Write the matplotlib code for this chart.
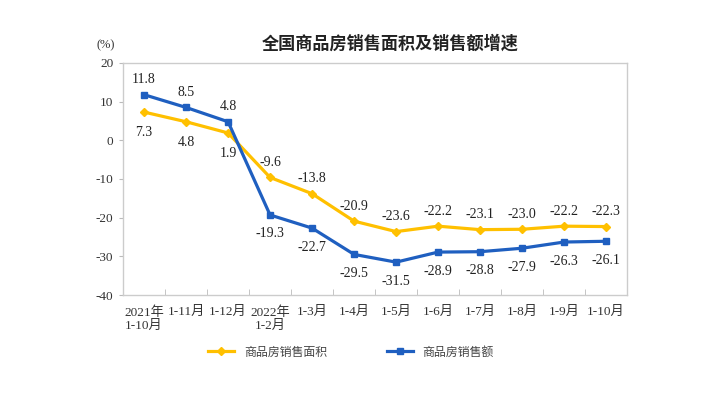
import matplotlib
matplotlib.use("Agg")
import matplotlib.pyplot as plt

plt.rcParams['font.family'] = ['Liberation Serif', 'Noto Sans CJK SC']

categories = ["2021年\n1-10月", "1-11月", "1-12月", "2022年\n1-2月", "1-3月", "1-4月",
              "1-5月", "1-6月", "1-7月", "1-8月", "1-9月", "1-10月"]
area = [7.3, 4.8, 1.9, -9.6, -13.8, -20.9, -23.6, -22.2, -23.1, -23.0, -22.2, -22.3]
sales = [11.8, 8.5, 4.8, -19.3, -22.7, -29.5, -31.5, -28.9, -28.8, -27.9, -26.3, -26.1]
yticks = [20, 10, 0, -10, -20, -30, -40]

YELLOW = "#FFC000"
BLUE = "#1F5FC0"

fig = plt.figure(figsize=(7.12, 3.96), dpi=100)
ax = fig.add_axes([0.1728, 0.255, 0.708, 0.586])

x = list(range(len(categories)))
ax.plot(x, area, color=YELLOW, lw=2.3, marker="D", ms=4, label="商品房销售面积")
ax.plot(x, sales, color=BLUE, lw=2.3, marker="s", ms=4, label="商品房销售额")

for i in x:
    if i < 3:
        ya, va_a = -10, "top"
        ys, va_s = 6, "bottom"
    else:
        ya, va_a = 6, "bottom"
        ys, va_s = -9, "top"
    ax.annotate(f"{area[i]:.1f}", (i, area[i]), xytext=(0, ya), textcoords="offset points",
                ha="center", va=va_a, fontsize=10, color="#222222")
    ax.annotate(f"{sales[i]:.1f}", (i, sales[i]), xytext=(0, ys), textcoords="offset points",
                ha="center", va=va_s, fontsize=10, color="#222222")

ax.set_xlim(-0.5, len(categories) - 0.5)
ax.set_ylim(-40, 20)
ax.set_yticks(yticks)
ax.set_yticklabels([str(v) for v in yticks], fontsize=9.5, color="#333333")

ax.set_xticks(x)
ax.set_xticklabels(categories, fontsize=9.5, color="#333333", linespacing=1.1)
ax.tick_params(axis="x", length=0, pad=8)
ax.set_xticks([i + 0.5 for i in x[:-1]], minor=True)
ax.tick_params(axis="x", which="minor", direction="in", length=4, color="#bbbbbb")
ax.tick_params(axis="y", length=3, color="#bbbbbb", pad=4)

for s in ax.spines.values():
    s.set_color("#cccccc")
    s.set_linewidth(1.0)

fig.text(0.548, 0.89, "全国商品房销售面积及销售额增速", ha="center", va="center",
         fontsize=12.3, fontweight="bold", color="#222222")
fig.text(0.148, 0.885, "(%)", ha="center", va="center", fontsize=9, color="#333333")

fig.legend(loc="center", bbox_to_anchor=(0.493, 0.11), ncol=2, frameon=False,
           fontsize=8.6, handlelength=2.2, columnspacing=5, labelcolor="#444444")

fig.savefig("out.png", dpi=100)
